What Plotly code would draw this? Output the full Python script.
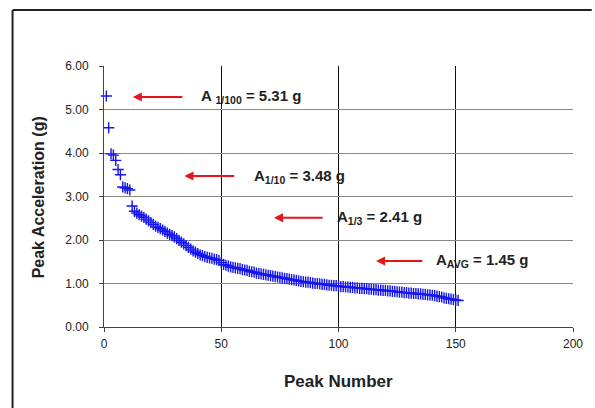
import plotly.graph_objects as go

peak_number = list(range(1, 152))
peak_accel = [
    5.31, 4.58, 3.98, 3.95, 3.83, 3.62, 3.50, 3.22, 3.20, 3.18,
    3.15, 2.78, 2.66, 2.62, 2.58, 2.55, 2.52, 2.48, 2.44, 2.40,
    2.36, 2.32, 2.29, 2.26, 2.23, 2.20, 2.16, 2.13, 2.10, 2.07,
    2.03, 1.99, 1.95, 1.91, 1.87, 1.83, 1.79, 1.75, 1.72, 1.69,
    1.66, 1.64, 1.62, 1.60, 1.59, 1.58, 1.56, 1.55, 1.53, 1.48,
    1.44, 1.42, 1.40, 1.38, 1.37, 1.36, 1.35, 1.34, 1.32, 1.31,
    1.30, 1.28, 1.27, 1.26, 1.24, 1.23, 1.22, 1.21, 1.20, 1.19,
    1.18, 1.17, 1.16, 1.15, 1.14, 1.13, 1.12, 1.11, 1.10, 1.09,
    1.08, 1.07, 1.06, 1.05, 1.04, 1.03, 1.03, 1.02, 1.01, 1.00,
    1.00, 0.99, 0.98, 0.98, 0.97, 0.96, 0.96, 0.95, 0.95, 0.94,
    0.93, 0.93, 0.92, 0.92, 0.91, 0.91, 0.90, 0.90, 0.89, 0.89,
    0.88, 0.88, 0.87, 0.87, 0.86, 0.86, 0.85, 0.85, 0.84, 0.84,
    0.83, 0.83, 0.82, 0.82, 0.81, 0.80, 0.80, 0.79, 0.79, 0.78,
    0.78, 0.77, 0.77, 0.76, 0.76, 0.75, 0.75, 0.74, 0.74, 0.73,
    0.72, 0.71, 0.70, 0.69, 0.67, 0.66, 0.65, 0.64, 0.63, 0.62,
    0.61,
]

# Statistic labels, their arrow spans (tail x, head x) and arrow heights
stat_labels = ["A <sub>1/100</sub> = 5.31 g", "A<sub>1/10</sub> = 3.48 g",
               "A<sub>1/3</sub> = 2.41 g", "A<sub>AVG</sub> = 1.45 g"]
arrow_tail_x = [34.7, 56.8, 94.5, 137.0]
arrow_head_x = [12.3, 34.3, 72.5, 116.0]
arrow_y = [5.29, 3.47, 2.51, 1.52]
label_x = [40.7, 63.0, 98.7, 140.7]

x_ticks = [0, 50, 100, 150, 200]
y_ticks = [0, 1, 2, 3, 4, 5, 6]

FONT = "Liberation Sans, Arial, sans-serif"

fig = go.Figure()
fig.add_trace(go.Scatter(
    x=peak_number, y=peak_accel, mode="markers",
    marker=dict(symbol="cross-thin", size=8, color="#1515ee",
                line=dict(color="#1515ee", width=1.4)),
    showlegend=False, cliponaxis=False,
))

annotations = []
for tx, hx, ay, lx, lab in zip(arrow_tail_x, arrow_head_x, arrow_y, label_x, stat_labels):
    annotations.append(dict(
        x=hx, y=ay, ax=tx, ay=ay, xref="x", yref="y", axref="x", ayref="y",
        text=" ", showarrow=True, arrowhead=2, arrowsize=0.9, arrowwidth=2,
        arrowcolor="#e8141b",
    ))
    annotations.append(dict(
        x=lx, y=ay, xref="x", yref="y", text="<b>" + lab + "</b>",
        showarrow=False, xanchor="left", yanchor="middle",
        font=dict(family=FONT, size=15, color="#222222"),
    ))

annotations.append(dict(
    x=-0.14, y=0.498, xref="paper", yref="paper", text="<b>Peak Acceleration (g)</b>",
    showarrow=False, textangle=-90, xanchor="center", yanchor="middle",
    font=dict(family=FONT, size=16, color="#222222"),
))
annotations.append(dict(
    x=0.5, y=-0.207, xref="paper", yref="paper", text="<b>Peak Number</b>",
    showarrow=False, xanchor="center", yanchor="middle",
    font=dict(family=FONT, size=17, color="#222222"),
))

fig.update_layout(
    width=595, height=408,
    margin=dict(l=104, r=19, t=66, b=81),
    paper_bgcolor="white", plot_bgcolor="white",
    annotations=annotations,
    shapes=[
        dict(type="line", xref="paper", yref="paper",
             x0=-0.195, y0=1.215, x1=1.04, y1=1.215,
             line=dict(color="#222222", width=2), layer="above"),
        dict(type="line", xref="paper", yref="paper",
             x0=-0.195, y0=1.215, x1=-0.195, y1=-0.31,
             line=dict(color="#222222", width=2), layer="above"),
    ],
    xaxis=dict(range=[0, 200], tickvals=x_ticks, ticktext=[str(v) for v in x_ticks],
               showgrid=True, gridcolor="#111111", gridwidth=1,
               showline=True, linecolor="#444444", linewidth=1,
               ticks="outside", ticklen=4, tickcolor="#444444",
               zeroline=False, ticklabelstandoff=2,
               tickfont=dict(family=FONT, size=12, color="#222222")),
    yaxis=dict(range=[0, 6], tickvals=y_ticks, ticktext=["%.2f" % v for v in y_ticks],
               showgrid=True, gridcolor="#888888", gridwidth=1,
               showline=True, linecolor="#444444", linewidth=1,
               ticks="outside", ticklen=4, tickcolor="#444444",
               zeroline=False, ticklabelstandoff=8,
               tickfont=dict(family=FONT, size=12, color="#222222")),
)

fig.write_html("out.html")
